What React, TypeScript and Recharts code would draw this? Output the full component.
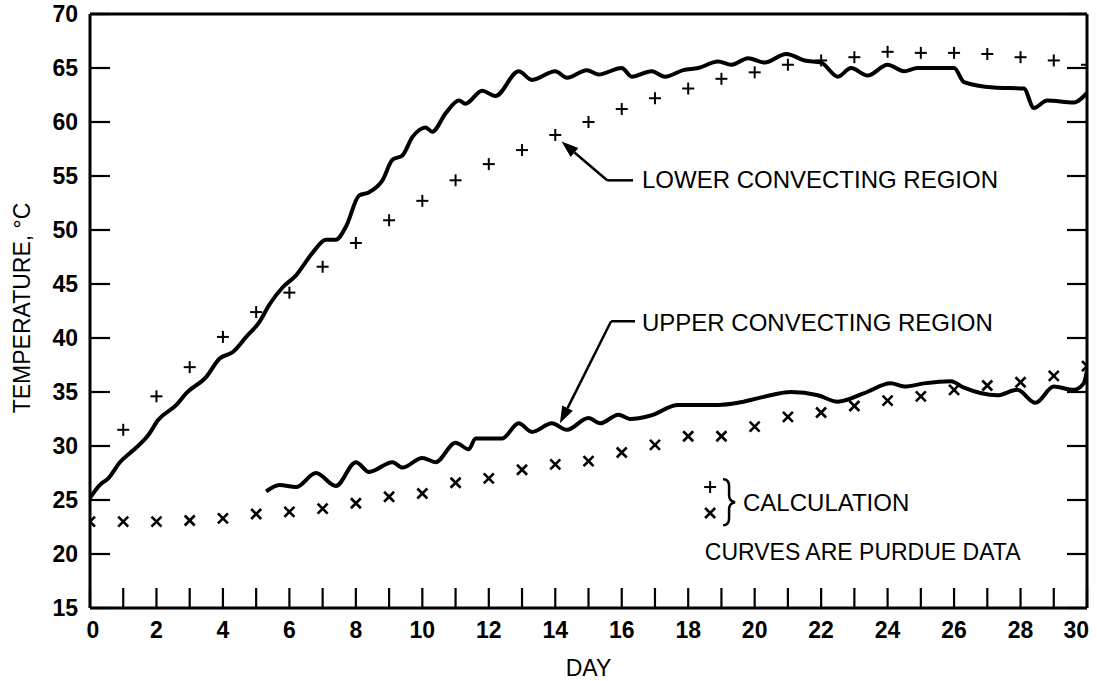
import React from "react";
import {
  ComposedChart,
  Line,
  Scatter,
  XAxis,
  YAxis,
  ReferenceLine,
  ReferenceDot,
} from "recharts";

// Purdue measured curves (day, temperature °C)
const lowerDays = [
  0, 0.3, 0.55, 0.9, 1.3, 1.75, 2.05, 2.6, 2.9, 3.5, 3.9, 4.3, 4.7, 5.1, 5.4, 5.8, 6.2, 6.7, 7.1, 7.4,
  7.7, 8.1, 8.4, 8.8, 9.1, 9.4, 9.7, 10.1, 10.3, 10.7, 11.1, 11.3, 11.8, 12.2, 12.9, 13.3, 14.0, 14.35,
  14.95, 15.3, 16.0, 16.3, 16.9, 17.3, 17.85, 18.3, 18.9, 19.3, 19.8, 20.3, 20.95, 21.5, 22.0, 22.5,
  22.9, 23.4, 24.0, 24.5, 24.9, 26.0, 26.3, 27.2, 28.1, 28.4, 28.8, 29.6, 30.0,
];
const lowerTemps = [
  25.2, 26.4, 27.0, 28.5, 29.6, 31.0, 32.4, 33.8, 34.9, 36.4, 38.1, 38.7, 40.1, 41.5, 43.1, 44.7, 45.8,
  47.9, 49.1, 49.1, 50.3, 53.2, 53.5, 54.6, 56.5, 56.9, 58.6, 59.5, 59.1, 60.8, 62.0, 61.7, 62.9, 62.4,
  64.7, 63.9, 64.7, 64.1, 64.8, 64.4, 65.0, 64.2, 64.7, 64.2, 64.8, 65.0, 65.6, 65.3, 65.9, 65.5, 66.3,
  65.7, 65.5, 64.2, 65.0, 64.3, 65.3, 64.7, 65.0, 65.0, 63.7, 63.2, 63.1, 61.3, 62.0, 61.8, 62.7,
];

const upperDays = [
  5.3, 5.7, 6.2, 6.8, 7.4, 8.0, 8.4, 9.1, 9.4, 10.0, 10.4, 11.0, 11.4, 11.6, 12.4, 12.9, 13.3, 13.9,
  14.35, 15.0, 15.35, 15.9, 16.25, 16.85, 17.7, 18.9, 19.5, 20.2, 21.1, 21.9, 22.5, 23.3, 24.1, 24.5,
  25.1, 25.9, 26.3, 27.3, 27.9, 28.45, 29.0, 29.6, 29.9, 30.0,
];
const upperTemps = [
  25.8, 26.4, 26.2, 27.5, 26.3, 28.5, 27.6, 28.5, 28.0, 28.9, 28.5, 30.3, 29.7, 30.7, 30.7, 32.1, 31.3,
  32.1, 31.5, 32.6, 32.1, 32.9, 32.5, 32.8, 33.8, 33.8, 34.0, 34.5, 35.0, 34.7, 34.1, 34.9, 35.8, 35.5,
  35.8, 36.0, 35.4, 34.7, 35.2, 34.0, 35.5, 35.2, 35.8, 37.0,
];

// Calculation points, one per day 0..30
const calcDays = Array.from({ length: 31 }, (_, i) => i);
const calcLower = [
  25.0, 31.5, 34.6, 37.3, 40.1, 42.4, 44.2, 46.6, 48.8, 50.9, 52.7, 54.6, 56.1, 57.4, 58.8, 60.0, 61.2,
  62.2, 63.1, 64.0, 64.6, 65.3, 65.7, 66.0, 66.5, 66.4, 66.4, 66.3, 66.0, 65.7, 65.3,
];
const calcUpper = [
  23.0, 23.0, 23.0, 23.1, 23.3, 23.7, 23.9, 24.2, 24.7, 25.3, 25.6, 26.6, 27.0, 27.8, 28.3, 28.6, 29.4,
  30.1, 30.9, 30.9, 31.8, 32.7, 33.1, 33.7, 34.2, 34.6, 35.2, 35.6, 35.9, 36.5, 37.4,
];

const xTicks = calcDays;
const yTicks = [15, 20, 25, 30, 35, 40, 45, 50, 55, 60, 65, 70];

const FONT = "'Liberation Sans', Arial, sans-serif";

const lowerCurve = lowerDays.map((day, i) => ({ day, t: lowerTemps[i] }));
const upperCurve = upperDays.map((day, i) => ({ day, t: upperTemps[i] }));
const plusPts = calcDays.map((day, i) => ({ day, t: calcLower[i] }));
const crossPts = calcDays.map((day, i) => ({ day, t: calcUpper[i] }));

const TICK_LEN = 20;

function BottomTick({ x, y, payload }: any) {
  const v = payload.value;
  // first/last labels hug the frame so they stay inside the picture
  const anchor = v === 30 ? "end" : "middle";
  const tx = v === 30 ? x + 2 : v === 0 ? x + 3 : x;
  return (
    <g>
      <line x1={x} y1={y} x2={x} y2={y - TICK_LEN} stroke="#000" strokeWidth={2.2} />
      {v % 2 === 0 && (
        <text x={tx} y={y + 22} textAnchor={anchor} dominantBaseline="central" fontSize={23} fontWeight={700} fontFamily={FONT} fill="#000">
          {v}
        </text>
      )}
    </g>
  );
}

function TopTick({ x, y }: any) {
  return <line x1={x} y1={y} x2={x} y2={y + TICK_LEN} stroke="#000" strokeWidth={2.2} />;
}

function LeftTick({ x, y, payload }: any) {
  return (
    <g>
      <line x1={x} y1={y} x2={x + TICK_LEN} y2={y} stroke="#000" strokeWidth={2.2} />
      <text x={x - 12} y={y} textAnchor="end" dominantBaseline="central" fontSize={23} fontWeight={700} fontFamily={FONT} fill="#000">
        {payload.value}
      </text>
    </g>
  );
}

function RightTick({ x, y }: any) {
  return <line x1={x} y1={y} x2={x - TICK_LEN} y2={y} stroke="#000" strokeWidth={2.2} />;
}

const plusShape = ({ cx, cy }: any) => (
  <g stroke="#000" strokeWidth={2}>
    <line x1={cx - 6} y1={cy} x2={cx + 6} y2={cy} />
    <line x1={cx} y1={cy - 6} x2={cx} y2={cy + 6} />
  </g>
);

const crossShape = ({ cx, cy }: any) => (
  <g stroke="#000" strokeWidth={2.6}>
    <line x1={cx - 5} y1={cy - 5} x2={cx + 5} y2={cy + 5} />
    <line x1={cx - 5} y1={cy + 5} x2={cx + 5} y2={cy - 5} />
  </g>
);

const plainSegment = ({ x1, y1, x2, y2 }: any) => (
  <line x1={x1} y1={y1} x2={x2} y2={y2} stroke="#000" strokeWidth={2.5} />
);

const arrowSegment = ({ x1, y1, x2, y2 }: any) => {
  const a = Math.atan2(y2 - y1, x2 - x1);
  const L = 17;
  const W = 6;
  const bx = x2 - L * Math.cos(a);
  const by = y2 - L * Math.sin(a);
  const px = -Math.sin(a) * W;
  const py = Math.cos(a) * W;
  return (
    <g>
      <line x1={x1} y1={y1} x2={bx} y2={by} stroke="#000" strokeWidth={2.5} />
      <polygon points={`${x2},${y2} ${bx + px},${by + py} ${bx - px},${by - py}`} fill="#000" />
    </g>
  );
};

const textAt = (value: string, size = 24) => ({ cx, cy }: any) => (
  <text x={cx} y={cy} dominantBaseline="central" fontSize={size} fontFamily={FONT} fill="#000">
    {value}
  </text>
);

const braceShape = ({ cx, cy }: any) => (
  <path
    d={`M ${cx - 5} ${cy - 23} q 6 0 6 7 v 9 q 0 6 6 7 q -6 1 -6 7 v 9 q 0 7 -6 7`}
    fill="none"
    stroke="#000"
    strokeWidth={2.5}
  />
);

// annotation anchors in data units (day, °C)
const lowerLeader = [
  { x: 16.34, y: 54.6 },
  { x: 15.56, y: 54.6 },
  { x: 14.19, y: 58.2 },
];
const upperLeader = [
  { x: 16.4, y: 41.55 },
  { x: 15.68, y: 41.55 },
  { x: 14.14, y: 32.1 },
];

export default function App() {
  return (
    <div style={{ position: "absolute", left: 0, top: 0, width: 1097, height: 681, background: "#fff" }}>
      <ComposedChart width={1097} height={681} margin={{ top: 0, right: 0, bottom: 0, left: 0 }}>
        <XAxis
          dataKey="day"
          type="number"
          domain={[0, 30]}
          allowDataOverflow
          ticks={xTicks}
          interval={0}
          height={73}
          tickSize={0}
          tickMargin={0}
          tickLine={false}
          axisLine={{ stroke: "#000", strokeWidth: 3 }}
          tick={<BottomTick />}
          label={{
            content: ({ viewBox }: any) => (
              <text
                x={viewBox.x + viewBox.width / 2}
                y={viewBox.y + 60}
                textAnchor="middle"
                dominantBaseline="central"
                fontSize={23}
                fontFamily={FONT}
                fill="#000"
              >
                DAY
              </text>
            ),
          }}
        />
        <XAxis
          xAxisId="top"
          orientation="top"
          type="number"
          domain={[0, 30]}
          allowDataOverflow
          ticks={xTicks}
          interval={0}
          height={14}
          tickSize={0}
          tickMargin={0}
          tickLine={false}
          axisLine={{ stroke: "#000", strokeWidth: 3 }}
          tick={<TopTick />}
        />
        <YAxis
          dataKey="t"
          type="number"
          domain={[15, 70]}
          allowDataOverflow
          ticks={yTicks}
          interval={0}
          width={90}
          tickSize={0}
          tickMargin={0}
          tickLine={false}
          axisLine={{ stroke: "#000", strokeWidth: 3 }}
          tick={<LeftTick />}
          label={{
            content: ({ viewBox }: any) => {
              const x = viewBox.x + 22;
              const y = viewBox.y + viewBox.height / 2 - 3;
              return (
                <text
                  x={x}
                  y={y}
                  transform={`rotate(-90 ${x} ${y})`}
                  textAnchor="middle"
                  dominantBaseline="central"
                  fontSize={23}
                  fontFamily={FONT}
                  fill="#000"
                >
                  TEMPERATURE, °C
                </text>
              );
            },
          }}
        />
        <YAxis
          yAxisId="right"
          orientation="right"
          type="number"
          domain={[15, 70]}
          allowDataOverflow
          ticks={yTicks}
          interval={0}
          width={10}
          tickSize={0}
          tickMargin={0}
          tickLine={false}
          axisLine={{ stroke: "#000", strokeWidth: 3 }}
          tick={<RightTick />}
        />

        <Line data={lowerCurve} dataKey="t" type="monotone" stroke="#000" strokeWidth={4} dot={false} isAnimationActive={false} />
        <Line data={upperCurve} dataKey="t" type="monotone" stroke="#000" strokeWidth={4} dot={false} isAnimationActive={false} />
        <Scatter data={plusPts} dataKey="t" shape={plusShape} isAnimationActive={false} />
        <Scatter data={crossPts} dataKey="t" shape={crossShape} isAnimationActive={false} />

        <ReferenceLine segment={[lowerLeader[0], lowerLeader[1]]} shape={plainSegment} />
        <ReferenceLine segment={[lowerLeader[1], lowerLeader[2]]} shape={arrowSegment} />
        <ReferenceLine segment={[upperLeader[0], upperLeader[1]]} shape={plainSegment} />
        <ReferenceLine segment={[upperLeader[1], upperLeader[2]]} shape={arrowSegment} />

        <ReferenceDot x={16.61} y={54.63} r={0} shape={textAt("LOWER CONVECTING REGION")} />
        <ReferenceDot x={16.61} y={41.39} r={0} shape={textAt("UPPER CONVECTING REGION")} />
        <ReferenceDot x={18.66} y={26.2} r={0} shape={plusShape} />
        <ReferenceDot x={18.66} y={23.8} r={0} shape={crossShape} />
        <ReferenceDot x={19.2} y={24.8} r={0} shape={braceShape} />
        <ReferenceDot x={19.65} y={24.8} r={0} shape={textAt("CALCULATION")} />
        <ReferenceDot x={18.5} y={20.2} r={0} shape={textAt("CURVES ARE PURDUE DATA", 23)} />
      </ComposedChart>
    </div>
  );
}
